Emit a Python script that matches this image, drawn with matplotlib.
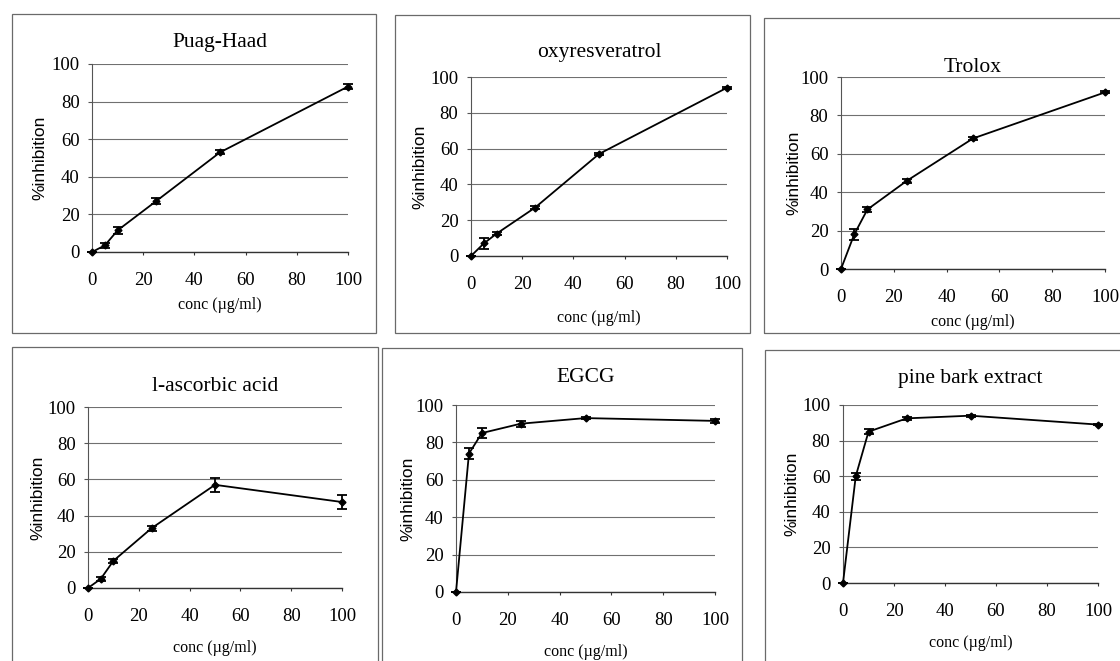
import matplotlib.pyplot as plt
from matplotlib.patches import Rectangle

W, H = 1120, 661

# concentrations tested (µg/ml) and mean % inhibition with error
conc = [0, 5, 10, 25, 50, 100]

puag_haad = [0, 3.5, 11.5, 27, 53, 88]
puag_haad_err = [0, 1.5, 2, 1.5, 1, 1.5]

oxyresveratrol = [0, 7, 12.5, 27, 57, 94]
oxyresveratrol_err = [0, 3, 1, 1, 0.7, 0.5]

trolox = [0, 18, 31, 46, 68, 92]
trolox_err = [0, 3, 1.5, 1, 1, 0.5]

ascorbic = [0, 5, 15, 33, 57, 47.5]
ascorbic_err = [0, 1, 1, 1.5, 4, 4]

egcg = [0, 74, 85, 90, 93, 91.5]
egcg_err = [0, 3, 2.5, 1.5, 0.5, 1]

pine_bark = [0, 60, 85, 92.5, 94, 89]
pine_bark_err = [0, 2, 1.5, 1, 0.5, 0.5]

titles = ["Puag-Haad", "oxyresveratrol", "Trolox",
          "l-ascorbic acid", "EGCG", "pine bark extract"]
series = [(puag_haad, puag_haad_err), (oxyresveratrol, oxyresveratrol_err),
          (trolox, trolox_err), (ascorbic, ascorbic_err),
          (egcg, egcg_err), (pine_bark, pine_bark_err)]

# pixel layout: frame box, plot area (x0, x100, y0, y100), title y, xlabel y, ylabel x
layout = [
    dict(frame=(12, 14, 376, 333), plot=(92, 348, 252, 64), title=43, xlab=305, ylab=40),
    dict(frame=(395, 15, 750, 333), plot=(471, 727, 256, 77), title=53, xlab=318, ylab=420),
    dict(frame=(764, 18, 1130, 333), plot=(841, 1105, 269, 77), title=67, xlab=322, ylab=794),
    dict(frame=(12, 347, 378, 675), plot=(88, 342, 588, 407), title=387, xlab=648, ylab=38),
    dict(frame=(382, 348, 742, 675), plot=(456, 715, 592, 405), title=377, xlab=652, ylab=408),
    dict(frame=(765, 350, 1130, 675), plot=(843, 1098, 583, 405), title=378, xlab=643, ylab=792),
]

serif = "Liberation Serif"
sans = "Liberation Sans"

fig = plt.figure(figsize=(W / 100, H / 100), dpi=100)
fig.patch.set_facecolor("white")


def fx(px):
    return px / W


def fy(py):
    return 1 - py / H


for (vals, errs), title, lay in zip(series, titles, layout):
    l, t, r, b = lay["frame"]
    fig.patches.append(Rectangle((fx(l), fy(b)), fx(r - l), (b - t) / H,
                                 transform=fig.transFigure, fill=False,
                                 edgecolor="#6a6a6a", lw=0.9))

    x0, x100, y0, y100 = lay["plot"]
    ax = fig.add_axes([fx(x0), fy(y0), fx(x100 - x0), (y0 - y100) / H])
    ax.set_xlim(0, 100)
    ax.set_ylim(0, 100)
    ax.set_xticks(range(0, 101, 20))
    ax.set_yticks(range(0, 101, 20))
    for s in ["top", "right"]:
        ax.spines[s].set_visible(False)
    ax.spines["left"].set_color("#555555")
    ax.spines["left"].set_linewidth(0.8)
    ax.spines["bottom"].set_color("#333333")
    ax.spines["bottom"].set_linewidth(1.0)
    ax.grid(axis="y", color="#707070", lw=0.8)
    ax.set_axisbelow(True)
    ax.tick_params(axis="y", length=3, width=0.8, color="#555555", pad=6,
                   labelsize=13.5)
    ax.tick_params(axis="x", length=2.5, width=0.8, color="#333333", pad=12,
                   labelsize=13.5)
    for lab in ax.get_xticklabels() + ax.get_yticklabels():
        lab.set_fontfamily(serif)
    ax.patch.set_alpha(0)

    ax.errorbar(conc, vals, yerr=errs, color="black", lw=1.3, marker="D",
                markersize=3.5, capsize=3.5, elinewidth=1.3, capthick=1.3,
                clip_on=False, zorder=3)

    fig.text(fx((x0 + x100) / 2), fy(lay["title"]), title, ha="center",
             va="center", fontsize=15.5, family=serif)
    fig.text(fx((x0 + x100) / 2), fy(lay["xlab"]), "conc (µg/ml)",
             ha="center", va="center", fontsize=11.5, family=serif)
    fig.text(fx(lay["ylab"]), fy((y0 + y100) / 2), "%inhibition",
             ha="center", va="center", rotation=90, fontsize=12.5, family=sans)

fig.savefig("out.png", dpi=100)
